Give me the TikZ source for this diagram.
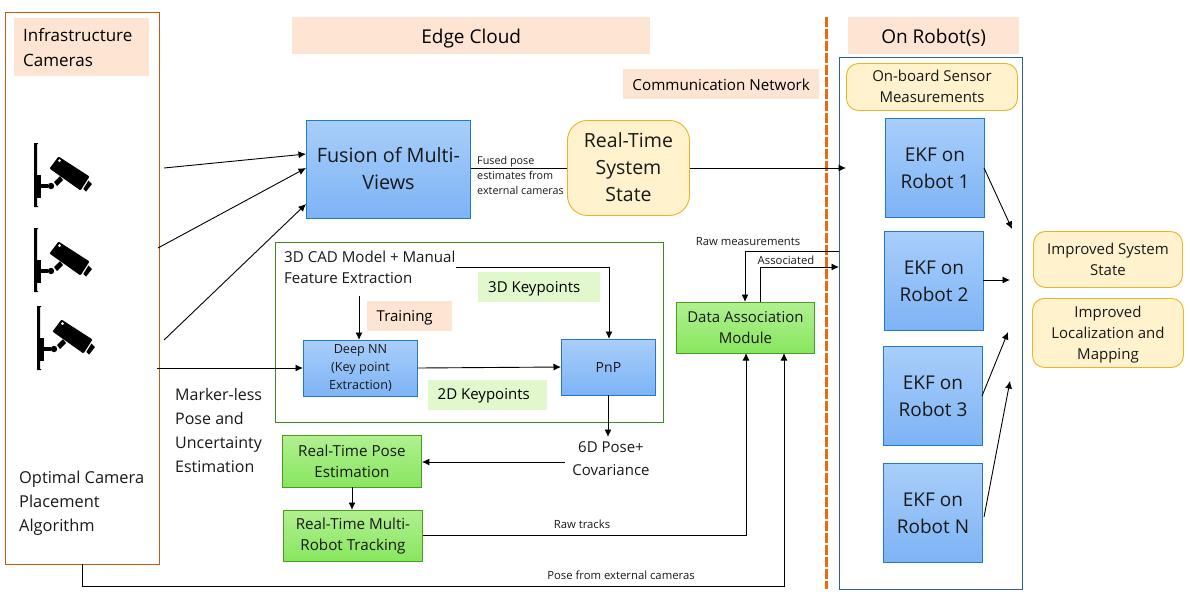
\documentclass[tikz,border=0pt]{standalone}
\usepackage{fontspec}
\setmainfont{Open Sans}
\usetikzlibrary{arrows.meta}
\definecolor{orangeline}{HTML}{C55A11}
\definecolor{dashorange}{HTML}{EC6A0C}
\definecolor{peach}{HTML}{FDE4D3}
\definecolor{lgreen}{HTML}{E0F8CC}
\definecolor{blueb}{HTML}{2478CC}
\definecolor{bluetop}{HTML}{A8CEFA}
\definecolor{bluebot}{HTML}{7DB3F5}
\definecolor{greenb}{HTML}{4C9A1E}
\definecolor{greentop}{HTML}{B0F090}
\definecolor{greenbot}{HTML}{88E65E}
\definecolor{yellowb}{HTML}{EDB422}
\definecolor{yellowf}{HTML}{FFF2CC}
\definecolor{darkblue}{HTML}{2F5F9E}
\definecolor{framegreen}{HTML}{3D8B1F}
\newcommand{\rb}[2]{\raisebox{#1}[\height][\depth]{#2}}
\newcommand{\shiftlines}[2]{\rb{#1}{\begin{tabular}{@{}c@{}}#2\end{tabular}}}
\tikzset{
  x=1pt,y=-1pt,
  lbl/.style={font=\fontsize{#1}{#1}\selectfont,align=center,text=black!90,inner sep=0pt},
  lbl/.default=15,
  peachbox/.style={fill=peach,inner sep=0pt,font=\fontsize{#1}{#1}\selectfont,align=center},
  peachbox/.default=15,
  greenlabel/.style={fill=lgreen,inner sep=0pt,font=\fontsize{15}{15}\selectfont,align=center},
  bluenode/.style={draw=blueb,line width=0.9pt,top color=bluetop,bottom color=bluebot,inner sep=0pt,align=center,text=black!90},
  greennode/.style={draw=greenb,line width=0.9pt,top color=greentop,bottom color=greenbot,inner sep=0pt,align=center,text=black!90},
  yellownode/.style={draw=yellowb,line width=0.9pt,fill=yellowf,rounded corners=12pt,inner sep=0pt,align=center,text=black!90},
  conn/.style={draw=black,line width=0.9pt,-{Latex[length=7.5pt,width=7pt]}},
  connplain/.style={draw=black,line width=0.9pt},
  pics/cameraicon/.style={code={
    \fill[black] (0,0) -- (4,0) -- (4,1) -- (3,1) -- (3,63) -- (4,63) -- (4,64) -- (0,64) -- cycle;
    \fill[black] (3,32) rectangle (7,55);
    \fill[black] (7,41) rectangle (14,45);
    \fill[black] (17,43) circle (3.2);
    \fill[black] (20,39) -- (26,33) -- (29,37) -- (23,43) -- cycle;
    \fill[black,rounded corners=1pt] (24.5,13.5) -- (55.5,33.5) -- (46.5,47.5) -- (15.5,25.5) -- cycle;
    \fill[white] (25.5,17.5) circle (1.5);
    \fill[black] (54.5,37.5) -- (58,41) -- (52,48.7) -- (49.3,46) -- cycle;
  }}
}
\begin{document}
\begin{tikzpicture}
\useasboundingbox (0,0) rectangle (1190,595);
\fill[white] (0,0) rectangle (1190,595);

% frames
\node[draw=orangeline,line width=0.9pt,minimum width=154pt,minimum height=552pt,inner sep=0pt,anchor=north west] (infra) at (4.5,11.7) {};
\node[draw=darkblue,line width=0.9pt,minimum width=183pt,minimum height=532pt,inner sep=0pt,anchor=north west] (robots) at (839,57) {};
\node[draw=framegreen,line width=0.9pt,minimum width=388pt,minimum height=180pt,inner sep=0pt,anchor=north west] (mlframe) at (274.5,242) {};
\coordinate (dashT) at (826,17);
\coordinate (dashB) at (826,589);
\draw[dashorange,line width=3pt,dash pattern=on 9.5pt off 2.5pt] (dashT) -- (dashB);

% header labels
\node[peachbox=17,minimum width=135pt,minimum height=58pt,anchor=north west] (infralbl) at (14,18) {\shiftlines{-3pt}{\makebox[109pt][l]{Infrastructure}\\[7pt]\makebox[109pt][l]{Cameras}}\hspace{8pt}};
\node[peachbox=19,minimum width=358pt,minimum height=37pt,anchor=north west] (edge) at (292,17) {\rb{-3pt}{Edge Cloud}};
\node[peachbox=19,minimum width=171pt,minimum height=37pt,anchor=north west] (onrobot) at (848,17) {\rb{-2pt}{On Robot(s)}};
\node[peachbox=15.2,minimum width=196pt,minimum height=30pt,anchor=north west] (comm) at (623,69) {\rb{-0.5pt}{Communication Network}};

% cameras
\pic at (34,143) {cameraicon};
\pic at (34,228) {cameraicon};
\pic at (37,306) {cameraicon};
\coordinate (cam1o) at (164,168);
\coordinate (cam2o) at (158,248);
\coordinate (cam3o) at (164,340);
\coordinate (cam4o) at (157,368);

% main boxes
\node[bluenode,minimum width=164pt,minimum height=98pt,anchor=north west,font=\fontsize{19.8}{27}\selectfont] (fusion) at (306,120) {\shiftlines{-1pt}{Fusion of Multi-\\Views}};
\node[yellownode,rounded corners=20pt,minimum width=122pt,minimum height=95pt,anchor=north west,font=\fontsize{19.5}{27}\selectfont] (rts) at (567,120) {\shiftlines{-1.5pt}{Real-Time\\System\\State}};
\node[yellownode,rounded corners=12pt,minimum width=171pt,minimum height=47pt,anchor=north west,font=\fontsize{15}{21}\selectfont] (sensor) at (846,63) {\shiftlines{-1pt}{On-board Sensor\\Measurements}};

\node[bluenode,minimum width=99pt,minimum height=99pt,anchor=north west,font=\fontsize{19}{27}\selectfont] (ekf1) at (885,118) {EKF on\\Robot 1};
\node[bluenode,minimum width=99pt,minimum height=99pt,anchor=north west,font=\fontsize{19}{27}\selectfont] (ekf2) at (884,231) {EKF on\\Robot 2};
\node[bluenode,minimum width=99pt,minimum height=99pt,anchor=north west,font=\fontsize{19}{27}\selectfont] (ekf3) at (883,346) {EKF on\\Robot 3};
\node[bluenode,minimum width=99pt,minimum height=99pt,anchor=north west,font=\fontsize{19}{27}\selectfont] (ekfn) at (883,463) {EKF on\\Robot N};

\node[yellownode,minimum width=149pt,minimum height=56pt,anchor=north west,font=\fontsize{15}{21}\selectfont] (iss) at (1033,231) {Improved System\\State};
\node[yellownode,minimum width=151pt,minimum height=69pt,anchor=north west,font=\fontsize{15}{21}\selectfont] (ilm) at (1032,298) {\shiftlines{-1pt}{Improved\\Localization and\\Mapping}};

% keypoint frame content
\node[lbl=15.1,align=left,anchor=north west,font=\fontsize{15.1}{21}\selectfont] (cad) at (284,251) {3D CAD Model + Manual\\Feature Extraction};
\node[greenlabel,minimum width=122pt,minimum height=30pt,anchor=north west] (k3d) at (478,272) {\rb{-2pt}{3D Keypoints}\hspace{10pt}};
\node[peachbox=15,minimum width=85pt,minimum height=30pt,anchor=north west] (train) at (367,301) {\rb{-2pt}{Training}\hspace{10pt}};
\node[greenlabel,minimum width=119pt,minimum height=30pt,anchor=north west] (k2d) at (428,380) {\rb{-1pt}{2D Keypoints}\hspace{8pt}};
\node[bluenode,minimum width=114pt,minimum height=56pt,anchor=north west,font=\fontsize{12.6}{18}\selectfont] (dnn) at (303,340) {Deep NN\\(Key point\\Extraction)};
\node[bluenode,minimum width=94pt,minimum height=56pt,anchor=north west,font=\fontsize{14}{16}\selectfont] (pnp) at (561,339) {PnP};

% other text
\node[lbl=16,align=left,anchor=north west,font=\fontsize{16}{24}\selectfont] (marker) at (175,388) {Marker-less\\Pose and\\Uncertainty\\Estimation};
\node[lbl=16,align=left,anchor=north west,font=\fontsize{16.4}{24}\selectfont] (optimal) at (19,471) {Optimal Camera\\Placement\\Algorithm};
\node[lbl=15,anchor=north,font=\fontsize{15}{23}\selectfont] (sixd) at (611,441.5) {6D Pose+\\Covariance};
\node[lbl=10.8,align=left,anchor=north west,font=\fontsize{10.8}{14.8}\selectfont] (fusedlbl) at (477,156) {Fused pose\\estimates from\\external cameras};

% green boxes
\node[greennode,minimum width=139pt,minimum height=52pt,anchor=north west,font=\fontsize{15.2}{21}\selectfont] (rtpe) at (282,435) {Real-Time Pose\\Estimation};
\node[greennode,minimum width=139pt,minimum height=51pt,anchor=north west,font=\fontsize{15.2}{21}\selectfont] (rtmr) at (283,510) {Real-Time Multi-\\Robot Tracking};
\node[greennode,minimum width=138pt,minimum height=51pt,anchor=north west,font=\fontsize{15}{21}\selectfont] (dam) at (676,302) {Data Association\\Module};

% connectors
\coordinate (fusionIn1) at (306,154);
\coordinate (fusionIn2) at (306,168);
\coordinate (fusionIn3) at (306,204);
\draw[conn] (cam1o) -- (fusionIn1);
\draw[conn] (cam2o) -- (fusionIn2);
\draw[conn] (cam3o) -- (fusionIn3);
\draw[conn] (cam4o) -- (dnn.west |- 0,368);
\draw[connplain] (fusion.east |- 0,168) -- (rts.west |- 0,168);
\coordinate (rtsOutEnd) at (846,168);
\draw[conn] (rts.east |- 0,168) -- (rtsOutEnd);

% cad
\coordinate (cadDown) at (359,296);
\draw[conn] (cadDown) -- (359,340);
\coordinate (cadR) at (456,267);
\draw[conn] (cadR) -- (609,267) -- (609,339);
\draw[conn] (dnn.east |- 0,368) -- (pnp.west |- 0,367);
\draw[conn] (608,395) -- (608,437);
\coordinate (sixdL) at (565,462);
\draw[conn] (sixdL) -- (rtpe.east |- 0,462);
\draw[conn] (352,487) -- (352,510);

% raw tracks
\draw[conn] (rtmr.east |- 0,535) -- (746,535) -- (746,353);
% pose from external
\coordinate (infraBot) at (82,564);
\draw[conn] (infraBot) -- (82,586) -- (784,586) -- (784,353);

% data association links
\coordinate (rawStart) at (839,251);
\draw[conn] (rawStart) -- (745,251) -- (745,302);
\coordinate (assocEnd) at (839,267);
\draw[conn] (760,302) -- (760,267) -- (assocEnd);

% EKF outs
\coordinate (m1) at (1012,229);
\coordinate (m2) at (1010,280);
\coordinate (m3) at (1008,332);
\coordinate (m4) at (1010,381);
\draw[conn] (984,168) -- (m1);
\draw[conn] (983,280) -- (m2);
\draw[conn] (982,396) -- (m3);
\draw[conn] (984,517) -- (m4);

% connector labels
\node[lbl=11.3,anchor=base] (rawtrk) at (582,528) {Raw tracks};
\node[lbl=11.3,anchor=base] (posext) at (621,579) {Pose from external cameras};
\node[lbl=11.3,anchor=base] (rawm) at (748,245) {Raw measurements};
\node[lbl=11.3,anchor=base] (assoc) at (786,264) {Associated};
\end{tikzpicture}
\end{document}
